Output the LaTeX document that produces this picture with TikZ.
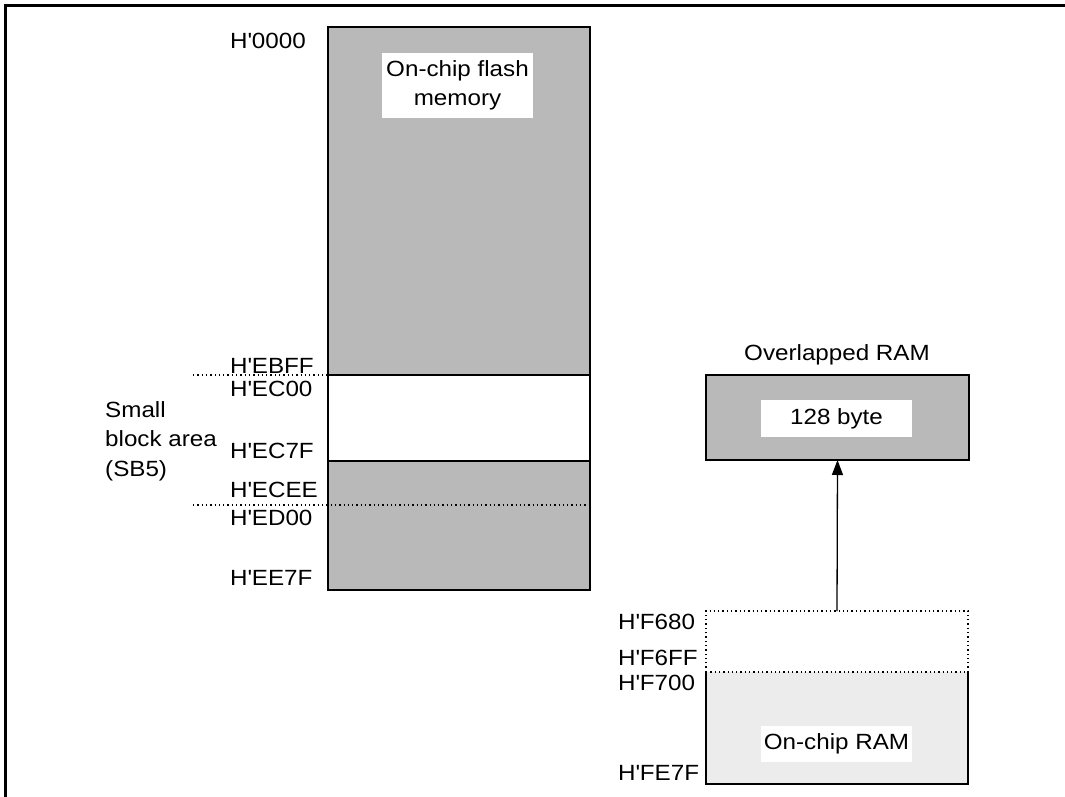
\documentclass[tikz,border=0pt]{standalone}
\usepackage{fontspec}
\setmainfont{Liberation Sans}[FakeStretch=1.1]
\usetikzlibrary{arrows.meta}
\definecolor{memgray}{RGB}{185,185,185}
\definecolor{ramgray}{RGB}{236,236,236}
\newcommand{\hq}{H\textquotesingle}
\begin{document}
\begin{tikzpicture}[x=1pt,y=-1pt,
  blk/.style={draw, line width=1.4pt, anchor=north west, inner sep=0pt, outer sep=0pt},
  txt/.style={inner sep=0pt, font=\fontsize{22}{27}\selectfont},
  lbl/.style={txt, anchor=west},
  wbox/.style={txt, fill=white, align=center},
  dots/.style={line width=1.3pt, dash pattern=on 1.3pt off 3pt}]
\useasboundingbox (0,0) rectangle (1065,797);
\draw[line width=3pt] (5,797) -- (5,6) -- (1065,6);

% flash memory map
\node[blk, fill=memgray, minimum width=262, minimum height=348] (flashhi) at (328,27) {};
\node[blk, fill=white, minimum width=262, minimum height=86] (sb) at (328,375) {};
\node[blk, fill=memgray, minimum width=262, minimum height=129] (flashlo) at (328,461) {};
\node[wbox, minimum width=151, minimum height=65] (flashlbl) at (457.5,85.5) {On-chip flash\\[2pt]memory};

\coordinate (d1) at (193,375);
\coordinate (d2a) at (193,505);
\coordinate (d2b) at (590,505);
\draw[dots] (d1) -- (sb.north west);
\draw[dots] (d2a) -- (d2b);

\node[lbl] (a0000) at (230,41) {\hq 0000};
\node[lbl] (aEBFF) at (230,366) {\hq EBFF};
\node[lbl] (aEC00) at (230,389) {\hq EC00};
\node[lbl] (aEC7F) at (230,451) {\hq EC7F};
\node[lbl] (aECEE) at (230,490) {\hq ECEE};
\node[lbl] (aED00) at (230,518) {\hq ED00};
\node[lbl] (aEE7F) at (230,578) {\hq EE7F};
\node[lbl, align=left, font=\fontsize{22}{29.5}\selectfont] (sbl) at (105,441) {Small\\block area\\(SB5)};

% overlapped RAM
\node[blk, fill=memgray, minimum width=263, minimum height=85] (ovl) at (706,375) {};
\node[wbox, minimum width=151, minimum height=37] (ovllbl) at (836.5,418.5) {128 byte};
\node[txt] (ovltitle) at (837,355) {Overlapped RAM};

% on-chip RAM
\node[blk, draw=none, minimum width=262, minimum height=61] (res) at (706,611) {};
\node[blk, draw=none, fill=ramgray, minimum width=262, minimum height=112] (ram) at (706,672) {};
\draw[dots] (res.south west) -- (res.north west) -- (res.north east) -- (res.south east);
\draw[line width=1.4pt] (ram.north west) -- (ram.south west) -- (ram.south east) -- (ram.north east);
\draw[dots] (ram.north west) -- (ram.north east);
\node[wbox, minimum width=151, minimum height=36] (ramlbl) at (836.5,744) {On-chip RAM};

\node[lbl] (aF680) at (618,622) {\hq F680};
\node[lbl] (aF6FF) at (618,658) {\hq F6FF};
\node[lbl] (aF700) at (618,683) {\hq F700};
\node[lbl] (aFE7F) at (618,773) {\hq FE7F};

\draw[line width=1.3pt, -{Triangle[length=15pt,width=11pt]}] (res.north) -- (ovl.south);
\end{tikzpicture}
\end{document}
